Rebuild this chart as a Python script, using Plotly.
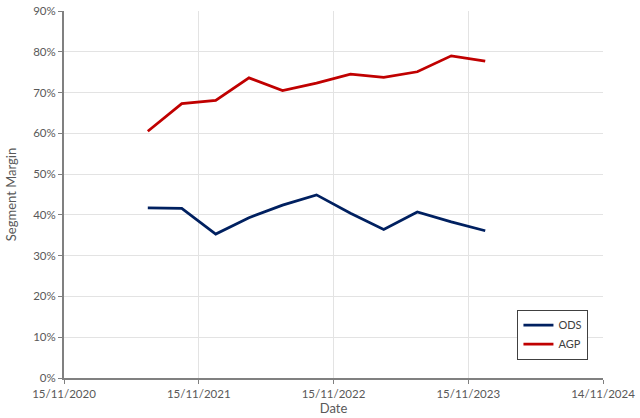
import plotly.graph_objects as go

dates = ["2021-06-30", "2021-09-30", "2021-12-31", "2022-03-31", "2022-06-30",
         "2022-09-30", "2022-12-31", "2023-03-31", "2023-06-30", "2023-09-30",
         "2023-12-31"]
ods = [0.417, 0.416, 0.353, 0.393, 0.424, 0.449, 0.404, 0.364, 0.407, 0.383, 0.361]
agp = [0.605, 0.673, 0.681, 0.736, 0.705, 0.723, 0.745, 0.737, 0.751, 0.790, 0.777]

x_tickvals = ["2020-11-15", "2021-11-15", "2022-11-15", "2023-11-15", "2024-11-14"]
x_ticktext = ["15/11/2020", "15/11/2021", "15/11/2022", "15/11/2023", "14/11/2024"]
y_tickvals = [0, 0.1, 0.2, 0.3, 0.4, 0.5, 0.6, 0.7, 0.8, 0.9]
y_ticktext = ["0%", "10%", "20%", "30%", "40%", "50%", "60%", "70%", "80%", "90%"]

FONT = "Lato, Open Sans, sans-serif"
fig = go.Figure()
fig.add_trace(go.Scatter(x=dates, y=ods, mode="lines", name="ODS",
                         line=dict(color="#002060", width=2.75)))
fig.add_trace(go.Scatter(x=dates, y=agp, mode="lines", name="AGP",
                         line=dict(color="#C00000", width=2.75)))

fig.update_layout(
    width=640, height=418,
    margin=dict(l=64, r=37, t=11, b=40),
    paper_bgcolor="white", plot_bgcolor="white",
    font=dict(family=FONT, size=11.5, color="#595959"),
    showlegend=True,
    legend=dict(x=0.973, y=0.05, xanchor="right", yanchor="bottom",
                bgcolor="white", bordercolor="#404040", borderwidth=1,
                font=dict(size=11, color="#404040"),
                itemwidth=30, tracegroupgap=0),
)
fig.update_xaxes(
    type="date", range=["2020-11-15", "2024-11-14"],
    tickmode="array", tickvals=x_tickvals, ticktext=x_ticktext,
    showgrid=True, gridcolor="#E3E3E3", gridwidth=1,
    showline=True, linecolor="#808080", linewidth=2,
    ticks="outside", ticklen=4, tickcolor="#808080", tickwidth=1,
    title=dict(text="Date", standoff=0, font=dict(size=13)),
    zeroline=False, automargin=False,
)
fig.update_yaxes(
    range=[0, 0.9],
    tickmode="array", tickvals=y_tickvals, ticktext=y_ticktext,
    showgrid=True, gridcolor="#E3E3E3", gridwidth=1,
    showline=True, linecolor="#808080", linewidth=2,
    ticks="outside", ticklen=4, tickcolor="#808080", tickwidth=1,
    title=dict(text="Segment Margin", standoff=14, font=dict(size=13)),
    zeroline=False, automargin=False,
)
fig.write_html("out.html")
